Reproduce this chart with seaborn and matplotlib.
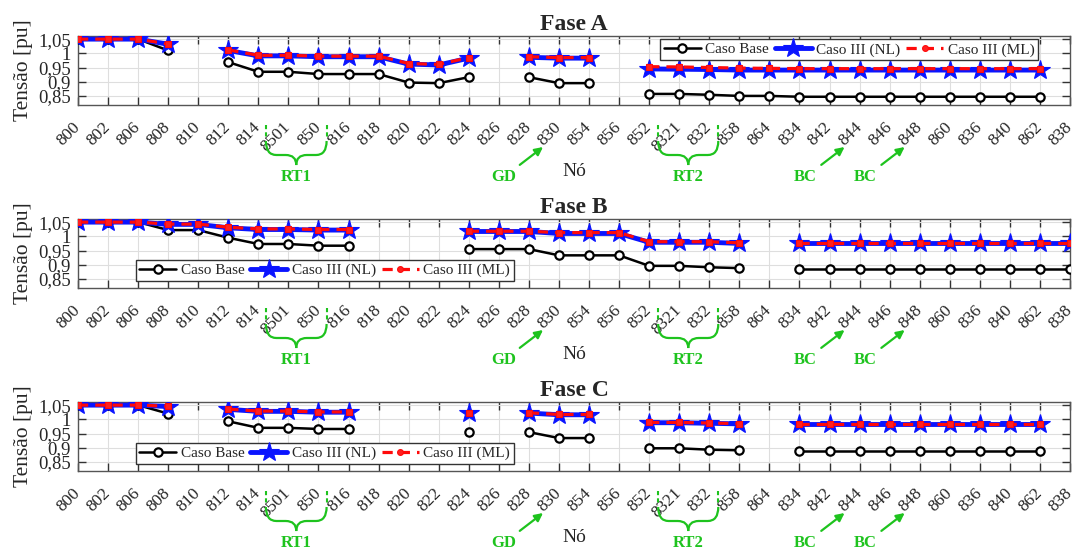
import numpy as np
import pandas as pd
import matplotlib
matplotlib.use('Agg')
from matplotlib import pyplot as plt
import matplotlib.transforms as mtransforms
from matplotlib.path import Path
from matplotlib.patches import PathPatch
from matplotlib.lines import Line2D
import seaborn as sns

sns.set_theme(style='ticks')
plt.rcParams['font.family'] = ['Liberation Serif', 'DejaVu Serif']

nan = np.nan

# nodes of the feeder, in plot order
nos = ['800', '802', '806', '808', '810', '812', '814', '8501', '850', '816',
       '818', '820', '822', '824', '826', '828', '830', '854', '856', '852',
       '8321', '832', '858', '864', '834', '842', '844', '846', '848', '860',
       '836', '840', '862', '838']

y_ticks = [0.85, 0.9, 0.95, 1.0, 1.05]
y_tick_labels = ['0,85', '0,9', '0,95', '1', '1,05']

# Fase A
base_a = [1.05, 1.05, 1.05, 1.010, nan, 0.969, 0.935, 0.935, 0.927, 0.927,
          0.927, 0.897, 0.895, 0.916, nan, 0.916, 0.895, 0.895, nan, 0.857,
          0.857, 0.854, 0.850, 0.850, 0.847, 0.847, 0.847, 0.847, 0.847, 0.847,
          0.847, 0.847, 0.847, nan]
nl_a = [1.05, 1.05, 1.05, 1.032, nan, 1.010, 0.991, 0.991, 0.988, 0.988,
        0.988, 0.962, 0.959, 0.983, nan, 0.986, 0.983, 0.983, nan, 0.945,
        0.944, 0.943, 0.941, 0.941, 0.941, 0.941, 0.941, 0.941, 0.941, 0.941,
        0.941, 0.941, 0.941, nan]
ml_a = [1.05, 1.05, 1.05, 1.033, nan, 1.012, 0.993, 0.993, 0.990, 0.990,
        0.990, 0.964, 0.961, 0.985, nan, 0.988, 0.985, 0.985, nan, 0.953,
        0.952, 0.950, 0.948, 0.947, 0.946, 0.946, 0.946, 0.946, 0.946, 0.946,
        0.946, 0.946, 0.946, nan]

# Fase B
base_b = [1.05, 1.05, 1.05, 1.022, 1.022, 0.995, 0.973, 0.973, 0.967, 0.967,
          nan, nan, nan, 0.955, 0.955, 0.955, 0.933, 0.933, 0.933, 0.896,
          0.896, 0.891, 0.888, nan, 0.884, 0.884, 0.884, 0.884, 0.884, 0.884,
          0.884, 0.884, 0.884, 0.884]
nl_b = [1.05, 1.05, 1.05, 1.042, 1.042, 1.030, 1.024, 1.024, 1.022, 1.022,
        nan, nan, nan, 1.017, 1.017, 1.017, 1.010, 1.010, 1.010, 0.979,
        0.979, 0.979, 0.975, nan, 0.975, 0.975, 0.975, 0.975, 0.975, 0.975,
        0.975, 0.975, 0.975, 0.975]
ml_b = [1.05, 1.05, 1.05, 1.043, 1.043, 1.032, 1.026, 1.026, 1.024, 1.024,
        nan, nan, nan, 1.018, 1.018, 1.018, 1.013, 1.013, 1.013, 0.981,
        0.981, 0.981, 0.977, nan, 0.977, 0.977, 0.977, 0.977, 0.977, 0.977,
        0.977, 0.977, 0.977, 0.977]

# Fase C
base_c = [1.05, 1.05, 1.05, 1.020, nan, 0.993, 0.970, 0.970, 0.966, 0.966,
          nan, nan, nan, 0.955, nan, 0.955, 0.934, 0.934, nan, 0.898,
          0.898, 0.893, 0.891, nan, 0.889, 0.889, 0.889, 0.889, 0.889, 0.889,
          0.889, 0.889, 0.889, nan]
nl_c = [1.05, 1.05, 1.05, 1.045, nan, 1.035, 1.028, 1.028, 1.025, 1.025,
        nan, nan, nan, 1.022, nan, 1.022, 1.016, 1.016, nan, 0.988,
        0.988, 0.986, 0.984, nan, 0.982, 0.982, 0.982, 0.982, 0.982, 0.982,
        0.982, 0.982, 0.982, nan]
ml_c = [1.05, 1.05, 1.05, 1.046, nan, 1.036, 1.029, 1.029, 1.026, 1.026,
        nan, nan, nan, 1.023, nan, 1.023, 1.017, 1.017, nan, 0.989,
        0.989, 0.987, 0.985, nan, 0.983, 0.983, 0.983, 0.983, 0.983, 0.983,
        0.983, 0.983, 0.983, nan]

fases = [('Fase A', base_a, nl_a, ml_a),
         ('Fase B', base_b, nl_b, ml_b),
         ('Fase C', base_c, nl_c, ml_c)]

legend_labels = ['Caso Base', 'Caso III (NL)', 'Caso III (ML)']

verde = '#1ec31e'

estilos = {
    'base': dict(color='black', linewidth=1.8, marker='o', markersize=6,
                 markerfacecolor='white', markeredgecolor='black',
                 markeredgewidth=1.6, zorder=3),
    'nl': dict(color='#0a14ff', linewidth=3.5, marker='*', markersize=15,
               markerfacecolor='#0a14ff', markeredgecolor='#0a14ff',
               markeredgewidth=0.8, zorder=4),
    'ml': dict(color='#ff0a0a', linewidth=2.3, linestyle=(0, (3.2, 2.2)),
               marker='s', markersize=4.2, markerfacecolor='#ff2020',
               markeredgecolor='#ff0a0a', markeredgewidth=0.8, zorder=5),
}

fig = plt.figure(figsize=(10.82, 5.53), dpi=100)
W, H = 1082, 553
ax_left, ax_w, ax_h = 78, 992, 69
ax_tops = [36, 219, 402]

leg_pos = [dict(loc='upper right', bbox_to_anchor=(0.968, 0.957)),
           dict(loc='lower left', bbox_to_anchor=(0.058, 0.10)),
           dict(loc='lower left', bbox_to_anchor=(0.058, 0.10))]


def px(d):
    # pixels below the axes bottom -> axes fraction
    return -d / ax_h


def chave(ax, tr, x0, x1):
    yt, ym, yb = px(36), px(50), px(60)
    xm = (x0 + x1) / 2
    q = 0.35
    verts = [(x0, yt), (x0, ym), (x0 + q, ym), (xm - q, ym), (xm, ym), (xm, yb),
             (xm, ym), (xm + q, ym), (x1 - q, ym), (x1, ym), (x1, yt)]
    codes = [Path.MOVETO, Path.CURVE3, Path.CURVE3, Path.LINETO, Path.CURVE3,
             Path.CURVE3, Path.CURVE3, Path.CURVE3, Path.LINETO, Path.CURVE3,
             Path.CURVE3]
    ax.add_patch(PathPatch(Path(verts, codes), transform=tr, fill=False,
                           edgecolor=verde, lw=1.6, clip_on=False))
    for xx in (x0, x1):
        ax.add_line(Line2D([xx, xx], [px(20), px(33)], transform=tr,
                           color=verde, lw=1.5, linestyle=(0, (2, 1.5)),
                           clip_on=False))


def notas(ax):
    tr = mtransforms.blended_transform_factory(ax.transData, ax.transAxes)
    tkw = dict(color=verde, fontsize=12, fontweight='bold', ha='center',
               va='center')
    chave(ax, tr, 6.25, 8.27)
    ax.text(7.26, px(72), 'RT1', transform=tr, **tkw)
    chave(ax, tr, 19.3, 21.3)
    ax.text(20.3, px(72), 'RT2', transform=tr, **tkw)
    setas = [('GD', 14.17, 15.47), ('BC', 24.2, 25.5), ('BC', 26.2, 27.5)]
    for txt, xt, xh in setas:
        ax.annotate(txt, xy=(xh, px(42)), xytext=(xt, px(72)),
                    xycoords=tr, textcoords=tr, annotation_clip=False,
                    arrowprops=dict(arrowstyle='-|>', color=verde, lw=1.6,
                                    mutation_scale=12, shrinkA=1, shrinkB=0),
                    **tkw)


pos = np.arange(len(nos))

for i, (titulo, base, nl, ml) in enumerate(fases):
    top = ax_tops[i]
    ax = fig.add_axes([ax_left / W, 1 - (top + ax_h) / H, ax_w / W, ax_h / H])
    df = pd.DataFrame({'pos': pos, 'base': base, 'nl': nl, 'ml': ml})
    for col in ['base', 'nl', 'ml']:
        d = df[['pos', col]].copy()
        d['seg'] = d[col].isna().cumsum()
        d = d.dropna()
        sns.lineplot(data=d, x='pos', y=col, units='seg', estimator=None,
                     sort=False, ax=ax, legend=False, **estilos[col])

    ax.set_xlim(0, len(nos) - 1)
    ax.set_ylim(0.818, 1.061)
    ax.set_xticks(pos)
    ax.set_xticklabels(nos, rotation=45, ha='right', va='center',
                       rotation_mode='anchor', fontsize=12.5)
    ax.set_yticks(y_ticks)
    ax.set_yticklabels(y_tick_labels, fontsize=13.5)
    ax.tick_params(axis='both', direction='in', top=True, right=True,
                   length=6, width=1, color='#333333', pad=5)
    ax.tick_params(axis='x', pad=14)
    ax.grid(True, color='#dedede', linewidth=0.8)
    ax.set_axisbelow(True)
    for s in ax.spines.values():
        s.set_color('#555555')
        s.set_linewidth(1.0)

    ax.set_title(titulo, fontsize=17, fontweight='bold', pad=4)
    ax.set_xlabel('Nó', fontsize=14)
    ax.xaxis.set_label_coords(0.5, -0.84)
    ax.set_ylabel('Tensão [pu]', fontsize=15.5)
    ax.yaxis.set_label_coords(-0.045, 0.5)

    handles = [Line2D([], [], **{k: v for k, v in estilos[c].items() if k != 'zorder'})
               for c in ['base', 'nl', 'ml']]
    handles[2].set_marker('o')
    leg = ax.legend(handles, legend_labels, ncol=3, fontsize=11,
                    frameon=True, fancybox=False, edgecolor='#333333',
                    framealpha=1, handlelength=2.4, handletextpad=0.3,
                    columnspacing=0.4, borderpad=0.25, borderaxespad=0,
                    **leg_pos[i])
    leg.get_frame().set_linewidth(1.0)

    notas(ax)

fig.savefig('out.png', dpi=100)
